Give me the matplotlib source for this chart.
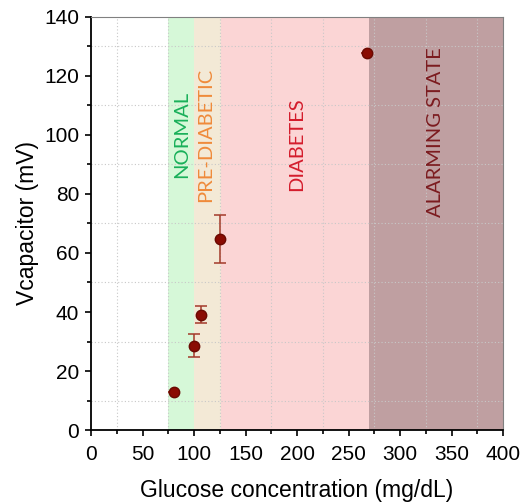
import numpy as np
import matplotlib.pyplot as plt
from matplotlib.ticker import MultipleLocator

# Data
glucose = [81, 100, 107, 125, 268]
vcap = [12.9, 28.6, 39.1, 64.6, 127.8]
vcap_err = [0.0, 3.8, 2.8, 8.1, 0.0]

# Zone boundaries (mg/dL) and styles
zone_edges = [75, 100, 126, 270, 400]
zone_colors = ["#d6f8d8", "#f3e9d6", "#fbd5d5", "#bf9fa1"]
zone_names = ["NORMAL", "PRE-DIABETIC", "DIABETES", "ALARMING STATE"]
zone_label_x = [88, 111, 200, 334]
zone_label_y = [100, 100, 97, 101]
zone_text_colors = ["#19b05a", "#ef8a3a", "#d41c2c", "#7c1b1f"]

plt.rcParams["font.family"] = ["Liberation Sans", "DejaVu Sans"]

fig = plt.figure(figsize=(5.27, 5.03), dpi=100)
ax = fig.add_axes([0.1727, 0.145, 0.7818, 0.8215])

for i in range(len(zone_colors)):
    ax.axvspan(zone_edges[i], zone_edges[i + 1], color=zone_colors[i], lw=0, zorder=0)
    ax.text(zone_label_x[i], zone_label_y[i], zone_names[i], rotation=90,
            ha="center", va="center", color=zone_text_colors[i],
            fontsize=14.5, family=["Lato", "DejaVu Sans"], zorder=3)

ax.errorbar(glucose, vcap, yerr=vcap_err, fmt="o", color="#8a0c03",
            mec="#6a0a02", ms=7.5, ecolor="#a33a2a", elinewidth=1.1,
            capsize=4, capthick=1.1, zorder=4)

ax.set_xlim(0, 400)
ax.set_ylim(0, 140)
ax.xaxis.set_major_locator(MultipleLocator(50))
ax.xaxis.set_minor_locator(MultipleLocator(25))
ax.yaxis.set_major_locator(MultipleLocator(20))
ax.yaxis.set_minor_locator(MultipleLocator(10))

# dotted grid at the minor positions only
for gx in range(25, 400, 50):
    ax.axvline(gx, color="#c8c8c8", lw=0.8, ls=(0, (1, 2)), zorder=1)
for gy in range(10, 140, 20):
    ax.axhline(gy, color="#c8c8c8", lw=0.8, ls=(0, (1, 2)), zorder=1)

ax.tick_params(which="major", direction="out", length=4.5, width=1.2, labelsize=15, colors="black")
ax.tick_params(which="minor", direction="out", length=3, width=1.2)
ax.tick_params(axis="x", which="major", pad=6)
ax.tick_params(axis="y", which="major", pad=4)
ax.tick_params(top=False, right=False, which="both")

for s in ["left", "bottom"]:
    ax.spines[s].set_linewidth(1.3)
    ax.spines[s].set_color("black")
for s in ["top", "right"]:
    ax.spines[s].set_linewidth(0.8)
    ax.spines[s].set_color("#808080")

ax.set_xlabel("Glucose concentration (mg/dL)", fontsize=16.5, labelpad=11)
ax.set_ylabel("Vcapacitor (mV)", fontsize=16.5, labelpad=4)

fig.savefig("out.png", dpi=100)
